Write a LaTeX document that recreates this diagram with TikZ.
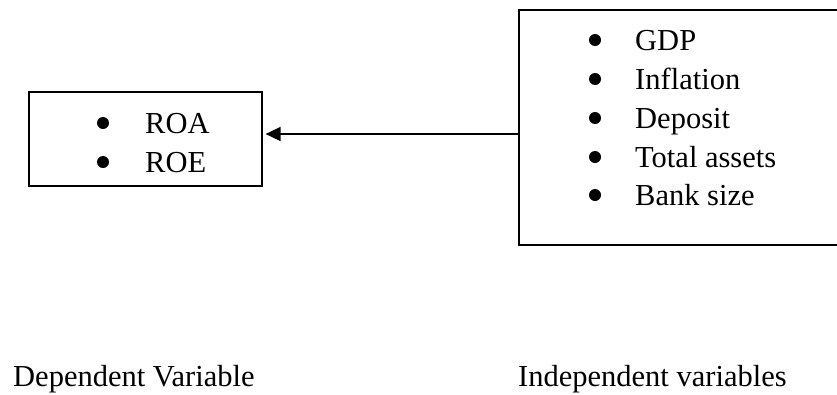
\documentclass[tikz,border=0pt]{standalone}
\usepackage{fontspec}
\setmainfont{Liberation Serif}
\usetikzlibrary{arrows.meta}

\tikzset{
  frame/.style={draw=black, line width=1.6pt, rectangle, inner sep=0pt, anchor=north west},
  item/.style={anchor=base west, inner sep=0pt, font=\fontsize{30.5}{37}\selectfont},
  caption/.style={anchor=base west, inner sep=0pt, font=\fontsize{30.5}{37}\selectfont},
  dot/.style={fill=black, draw=none, circle, inner sep=0pt, minimum size=12pt},
  link/.style={line width=1.6pt, -{Triangle[length=15pt,width=14pt]}},
}

\begin{document}
\begin{tikzpicture}[x=1pt, y=-1pt]
  \useasboundingbox (0,0) rectangle (837,394);
  \clip (0,0) rectangle (837,394);

  % dependent variable box
  \node[frame, minimum width=233pt, minimum height=94pt] (dep) at (28,91) {};
  \node[dot] (d1) at (103,123) {};
  \node[dot] (d2) at (103,162) {};
  \node[item] (roa) at (145,133) {ROA};
  \node[item] (roe) at (145,172) {ROE};

  % independent variables box (runs past the right edge)
  \node[frame, minimum width=340pt, minimum height=235pt] (indep) at (518,9) {};
  \node[dot] (i1) at (595,40) {};
  \node[dot] (i2) at (595,79) {};
  \node[dot] (i3) at (595,118) {};
  \node[dot] (i4) at (595,157) {};
  \node[dot] (i5) at (595,195) {};
  \node[item] (gdp) at (635,50) {GDP};
  \node[item] (infl) at (635,89) {Inflation};
  \node[item] (depo) at (635,128) {Deposit};
  \node[item] (tot) at (635,167) {Total assets};
  \node[item] (size) at (635,205) {Bank size};

  % relation arrow
  \coordinate (ay) at (0,134);
  \draw[link] (indep.west |- ay) -- ([xshift=3pt]dep.east |- ay);

  % captions
  \node[caption] (depcap) at (13,386) {Dependent Variable};
  \node[caption] (indcap) at (518,386) {Independent variables};
\end{tikzpicture}
\end{document}
